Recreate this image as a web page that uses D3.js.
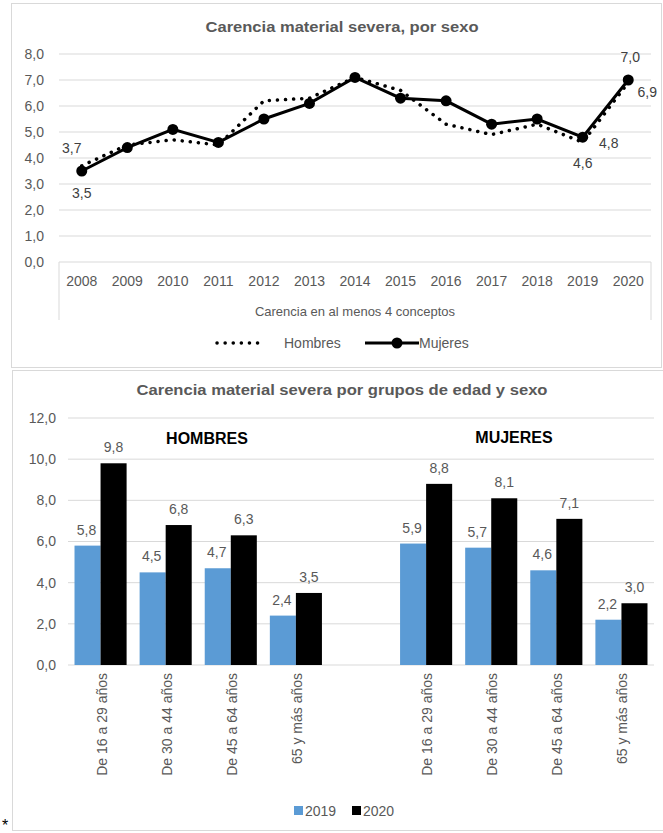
<!DOCTYPE html>
<html><head><meta charset="utf-8">
<script src="https://cdn.jsdelivr.net/npm/d3@7"></script>
<style>
body{margin:0;background:#fff;}
svg{display:block;font-family:"Liberation Sans",Arial,sans-serif;}
</style></head>
<body><svg id="c" width="663" height="833"></svg>
<script>
// ---- Data: top chart ----
const years = ["2008","2009","2010","2011","2012","2013","2014","2015","2016","2017","2018","2019","2020"];
const hombres = [3.7,4.5,4.7,4.5,6.2,6.3,7.1,6.6,5.3,4.9,5.3,4.6,6.9];
const mujeres = [3.5,4.4,5.1,4.6,5.5,6.1,7.1,6.3,6.2,5.3,5.5,4.8,7.0];
const topTicks = [0,1,2,3,4,5,6,7,8];
// ---- Data: bottom chart ----
const ageGroups = ["De 16 a 29 años","De 30 a 44 años","De 45 a 64 años","65 y más años"];
const hombres2019 = [5.8,4.5,4.7,2.4];
const hombres2020 = [9.8,6.8,6.3,3.5];
const mujeres2019 = [5.9,5.7,4.6,2.2];
const mujeres2020 = [8.8,8.1,7.1,3.0];
const bottomTicks = [0,2,4,6,8,10,12];
const seriesYears = ["2019","2020"];
const colors = {"2019":"#5b9bd5","2020":"#000000"};

const fmt = v => d3.format(".1f")(v).replace(".", ",");
const svg = d3.select("#c");
const axisGray = "#595959", gridGray = "#d9d9d9";

// ---------- Panels ----------
svg.append("rect").attr("x",11.5).attr("y",3.5).attr("width",650).attr("height",364)
  .attr("fill","#fff").attr("stroke","#d9d9d9");
svg.append("rect").attr("x",12.5).attr("y",370.5).attr("width",652).attr("height",460)
  .attr("fill","#fff").attr("stroke","#d9d9d9");

// ---------- Top chart ----------
const x1 = d3.scaleBand().domain(years).range([59,651]);
const y1 = d3.scaleLinear().domain([0,8]).range([262,54]);
const cx = d => x1(d) + x1.bandwidth()/2;

svg.append("text").attr("x",342).attr("y",32).attr("text-anchor","middle")
  .attr("font-weight","bold").attr("font-size",14).attr("fill",axisGray)
  .attr("textLength",273).attr("lengthAdjust","spacingAndGlyphs")
  .text("Carencia material severa, por sexo");

const g1 = svg.append("g");
g1.selectAll("line.grid").data(topTicks).join("line")
  .attr("x1",59).attr("x2",651).attr("y1",d=>y1(d)).attr("y2",d=>y1(d))
  .attr("stroke",gridGray).attr("stroke-width",1);
[59,651].forEach(xx=>g1.append("line").attr("x1",xx).attr("x2",xx).attr("y1",262).attr("y2",320)
  .attr("stroke",gridGray));
const ax1 = d3.axisLeft(y1).tickValues(topTicks).tickFormat(fmt).tickSize(0).tickPadding(15);
g1.append("g").attr("transform","translate(59,0)").call(ax1)
  .call(g=>g.select(".domain").remove())
  .call(g=>g.selectAll("text").attr("font-size",14).attr("fill",axisGray).attr("font-family","Liberation Sans, Arial"));
const bx1 = d3.axisBottom(x1).tickSize(0).tickPadding(14);
g1.append("g").attr("transform","translate(0,262)").call(bx1)
  .call(g=>g.select(".domain").remove())
  .call(g=>g.selectAll("text").attr("font-size",14).attr("fill",axisGray).attr("font-family","Liberation Sans, Arial"));
svg.append("text").attr("x",355).attr("y",316).attr("text-anchor","middle")
  .attr("font-size",13).attr("fill",axisGray).text("Carencia en al menos 4 conceptos");

const line1 = d3.line().x((d,i)=>cx(years[i])).y(d=>y1(d));
g1.append("path").datum(hombres).attr("d",line1).attr("fill","none")
  .attr("stroke","#000").attr("stroke-width",3.5).attr("stroke-dasharray","0.1,8")
  .attr("stroke-linecap","round");
g1.append("path").datum(mujeres).attr("d",line1).attr("fill","none")
  .attr("stroke","#000").attr("stroke-width",3);
g1.selectAll("circle.m").data(mujeres).join("circle")
  .attr("cx",(d,i)=>cx(years[i])).attr("cy",d=>y1(d)).attr("r",5.5).attr("fill","#000");

const lbl = (txt,x,y)=>svg.append("text").attr("x",x).attr("y",y).attr("text-anchor","middle")
  .attr("font-size",14).attr("fill","#404040").text(txt);
lbl(fmt(hombres[0]), cx(years[0])-10, y1(hombres[0])-13);
lbl(fmt(mujeres[0]), cx(years[0]), y1(mujeres[0])+27);
lbl(fmt(mujeres[12]), cx(years[12])+2, y1(mujeres[12])-18);
lbl(fmt(hombres[12]), cx(years[12])+19, y1(hombres[12])+14);
lbl(fmt(mujeres[11]), cx(years[11])+26, y1(mujeres[11])+11);
lbl(fmt(hombres[11]), cx(years[11]), y1(hombres[11])+26);

// legend top
svg.append("line").attr("x1",217).attr("x2",263).attr("y1",343).attr("y2",343)
  .attr("stroke","#000").attr("stroke-width",3.5).attr("stroke-dasharray","0.1,8").attr("stroke-linecap","round");
svg.append("text").attr("x",284).attr("y",348).attr("font-size",14).attr("fill",axisGray).text("Hombres");
svg.append("line").attr("x1",365).attr("x2",419).attr("y1",343).attr("y2",343)
  .attr("stroke","#000").attr("stroke-width",3);
svg.append("circle").attr("cx",397).attr("cy",343).attr("r",5.5).attr("fill","#000");
svg.append("text").attr("x",419).attr("y",348).attr("font-size",14).attr("fill",axisGray).text("Mujeres");

// ---------- Bottom chart ----------
const keys = ["H0","H1","H2","H3","gap","M0","M1","M2","M3"];
const rows = [];
ageGroups.forEach((a,i)=>rows.push({key:"H"+i,label:a,v:{"2019":hombres2019[i],"2020":hombres2020[i]}}));
ageGroups.forEach((a,i)=>rows.push({key:"M"+i,label:a,v:{"2019":mujeres2019[i],"2020":mujeres2020[i]}}));

const x2 = d3.scaleBand().domain(keys).range([68,654]);
const xs = d3.scaleBand().domain(seriesYears).range([0,x2.bandwidth()]).paddingOuter(0.25);
const y2 = d3.scaleLinear().domain([0,12]).range([665,418]);

svg.append("text").attr("x",342).attr("y",395).attr("text-anchor","middle")
  .attr("font-weight","bold").attr("font-size",14).attr("fill",axisGray)
  .attr("textLength",411).attr("lengthAdjust","spacingAndGlyphs")
  .text("Carencia material severa por grupos de edad y sexo");

const g2 = svg.append("g");
g2.selectAll("line.grid").data(bottomTicks).join("line")
  .attr("x1",68).attr("x2",654).attr("y1",d=>y2(d)).attr("y2",d=>y2(d))
  .attr("stroke",gridGray);
const ax2 = d3.axisLeft(y2).tickValues(bottomTicks).tickFormat(fmt).tickSize(0).tickPadding(12);
g2.append("g").attr("transform","translate(68,0)").call(ax2)
  .call(g=>g.select(".domain").remove())
  .call(g=>g.selectAll("text").attr("font-size",14).attr("fill",axisGray).attr("font-family","Liberation Sans, Arial"));

const grp = g2.selectAll("g.grp").data(rows).join("g")
  .attr("transform",d=>`translate(${x2(d.key)},0)`);
grp.selectAll("rect").data(d=>seriesYears.map(s=>({s,v:d.v[s]}))).join("rect")
  .attr("x",d=>xs(d.s)).attr("width",xs.bandwidth())
  .attr("y",d=>y2(d.v)).attr("height",d=>y2(0)-y2(d.v))
  .attr("fill",d=>colors[d.s]);
grp.selectAll("text.v").data(d=>seriesYears.map(s=>({s,v:d.v[s]}))).join("text")
  .attr("x",d=>xs(d.s)+xs.bandwidth()/2 + (d.s==="2019"?-1:0)).attr("y",d=>y2(d.v)-11)
  .attr("text-anchor","middle").attr("font-size",14).attr("fill",axisGray)
  .text(d=>fmt(d.v));
grp.append("text")
  .attr("transform",d=>`translate(${x2.bandwidth()/2+6},673) rotate(-90)`)
  .attr("text-anchor","end").attr("font-size",14).attr("fill",axisGray)
  .text(d=>d.label);

svg.append("text").attr("x",207).attr("y",444).attr("text-anchor","middle")
  .attr("font-weight","bold").attr("font-size",16).attr("fill","#000").text("HOMBRES");
svg.append("text").attr("x",514).attr("y",443).attr("text-anchor","middle")
  .attr("font-weight","bold").attr("font-size",16).attr("fill","#000").text("MUJERES");

const lg = svg.append("g").selectAll("g").data(seriesYears).join("g")
  .attr("transform",(d,i)=>`translate(${294+i*58},806)`);
lg.append("rect").attr("width",9).attr("height",9).attr("fill",d=>colors[d]);
lg.append("text").attr("x",11).attr("y",9.5).attr("font-size",14).attr("fill",axisGray).text(d=>d);

svg.append("text").attr("x",2).attr("y",831).attr("font-size",16).attr("fill","#000").text("*");
</script></body></html>
